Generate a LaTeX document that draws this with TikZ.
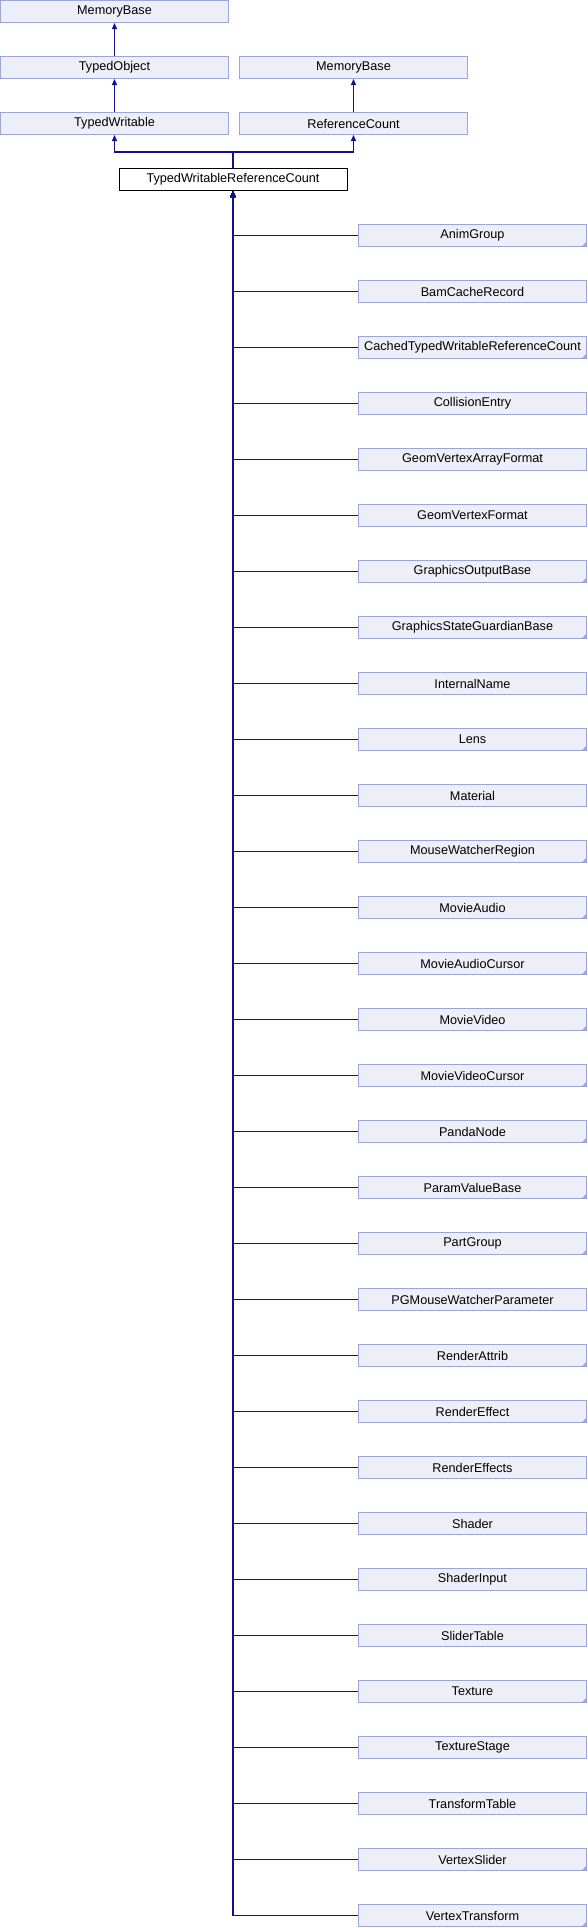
\documentclass[tikz,border=0pt]{standalone}
\usepackage{fontspec}
\setmainfont{Liberation Sans}
\usetikzlibrary{arrows.meta}
\definecolor{boxfill}{RGB}{238,238,248}
\definecolor{boxline}{RGB}{154,166,216}
\definecolor{edgeblue}{RGB}{16,16,145}
\tikzset{
  cls/.style={draw=boxline, fill=boxfill, line width=0.75pt, minimum width=171pt, minimum height=16.5pt, inner sep=0pt, font=\fontsize{9.5}{11}\selectfont},
  clsmore/.style={cls, path picture={\fill[boxline] (path picture bounding box.south east) -- ++(-3.6pt,0) -- ++(3.6pt,3.6pt) -- cycle;}},
  current/.style={cls, draw=black, fill=white},
  inherit/.style={draw=edgeblue, line width=0.8pt, -{Triangle[length=4.5pt,width=3.8pt]}},
}
\begin{document}
\begin{tikzpicture}[x=0.75pt,y=0.75pt,yscale=-1,xscale=1]
\useasboundingbox (0,0) rectangle (587,1928);

% Base classes
\node[cls] (membase) at (114.5,11.5) {MemoryBase};
\node[cls] (typedobj) at (114.5,67.5) {TypedObject};
\node[cls] (membasetwo) at (353.5,67.5) {MemoryBase};
\node[cls] (typedwr) at (114.5,123.5) {TypedWritable};
\node[cls] (refcount) at (353.5,123.5) {ReferenceCount};
\node[current] (twrc) at (233,179.5) {TypedWritableReferenceCount};

% Derived classes
\node[clsmore] (animgroup) at (472.5,235.5) {AnimGroup};
\node[cls] (bamcache) at (472.5,291.5) {BamCacheRecord};
\node[clsmore] (cachedtwrc) at (472.5,347.5) {CachedTypedWritableReferenceCount};
\node[cls] (collentry) at (472.5,403.5) {CollisionEntry};
\node[cls] (gvaformat) at (472.5,459.5) {GeomVertexArrayFormat};
\node[cls] (gvformat) at (472.5,515.5) {GeomVertexFormat};
\node[clsmore] (gobase) at (472.5,571.5) {GraphicsOutputBase};
\node[clsmore] (gsgbase) at (472.5,627.5) {GraphicsStateGuardianBase};
\node[cls] (intname) at (472.5,683.5) {InternalName};
\node[clsmore] (lens) at (472.5,739.5) {Lens};
\node[cls] (material) at (472.5,795.5) {Material};
\node[clsmore] (mwregion) at (472.5,851.5) {MouseWatcherRegion};
\node[clsmore] (maudio) at (472.5,907.5) {MovieAudio};
\node[clsmore] (maudiocur) at (472.5,963.5) {MovieAudioCursor};
\node[clsmore] (mvideo) at (472.5,1019.5) {MovieVideo};
\node[clsmore] (mvideocur) at (472.5,1075.5) {MovieVideoCursor};
\node[clsmore] (pandanode) at (472.5,1131.5) {PandaNode};
\node[clsmore] (paramval) at (472.5,1187.5) {ParamValueBase};
\node[clsmore] (partgroup) at (472.5,1243.5) {PartGroup};
\node[cls] (pgmwparam) at (472.5,1299.5) {PGMouseWatcherParameter};
\node[clsmore] (rattrib) at (472.5,1355.5) {RenderAttrib};
\node[clsmore] (reffect) at (472.5,1411.5) {RenderEffect};
\node[cls] (reffects) at (472.5,1467.5) {RenderEffects};
\node[cls] (shader) at (472.5,1523.5) {Shader};
\node[cls] (shinput) at (472.5,1579.5) {ShaderInput};
\node[cls] (slidertab) at (472.5,1635.5) {SliderTable};
\node[clsmore] (texture) at (472.5,1691.5) {Texture};
\node[cls] (texstage) at (472.5,1747.5) {TextureStage};
\node[cls] (xformtab) at (472.5,1803.5) {TransformTable};
\node[clsmore] (vslider) at (472.5,1859.5) {VertexSlider};
\node[clsmore] (vxform) at (472.5,1915.5) {VertexTransform};

% Inheritance above
\coordinate (split) at (233,152);
\draw[inherit] (typedobj) -- (membase);
\draw[inherit] (typedwr) -- (typedobj);
\draw[inherit] (refcount) -- (membasetwo);
\draw[inherit] (twrc.north) -- (split) -| (typedwr.south);
\draw[inherit] (twrc.north) -- (split) -| (refcount.south);

% Inheritance below
\draw[inherit] (animgroup.west) -| (twrc.south);
\draw[inherit] (bamcache.west) -| (twrc.south);
\draw[inherit] (cachedtwrc.west) -| (twrc.south);
\draw[inherit] (collentry.west) -| (twrc.south);
\draw[inherit] (gvaformat.west) -| (twrc.south);
\draw[inherit] (gvformat.west) -| (twrc.south);
\draw[inherit] (gobase.west) -| (twrc.south);
\draw[inherit] (gsgbase.west) -| (twrc.south);
\draw[inherit] (intname.west) -| (twrc.south);
\draw[inherit] (lens.west) -| (twrc.south);
\draw[inherit] (material.west) -| (twrc.south);
\draw[inherit] (mwregion.west) -| (twrc.south);
\draw[inherit] (maudio.west) -| (twrc.south);
\draw[inherit] (maudiocur.west) -| (twrc.south);
\draw[inherit] (mvideo.west) -| (twrc.south);
\draw[inherit] (mvideocur.west) -| (twrc.south);
\draw[inherit] (pandanode.west) -| (twrc.south);
\draw[inherit] (paramval.west) -| (twrc.south);
\draw[inherit] (partgroup.west) -| (twrc.south);
\draw[inherit] (pgmwparam.west) -| (twrc.south);
\draw[inherit] (rattrib.west) -| (twrc.south);
\draw[inherit] (reffect.west) -| (twrc.south);
\draw[inherit] (reffects.west) -| (twrc.south);
\draw[inherit] (shader.west) -| (twrc.south);
\draw[inherit] (shinput.west) -| (twrc.south);
\draw[inherit] (slidertab.west) -| (twrc.south);
\draw[inherit] (texture.west) -| (twrc.south);
\draw[inherit] (texstage.west) -| (twrc.south);
\draw[inherit] (xformtab.west) -| (twrc.south);
\draw[inherit] (vslider.west) -| (twrc.south);
\draw[inherit] (vxform.west) -| (twrc.south);

\end{tikzpicture}
\end{document}
